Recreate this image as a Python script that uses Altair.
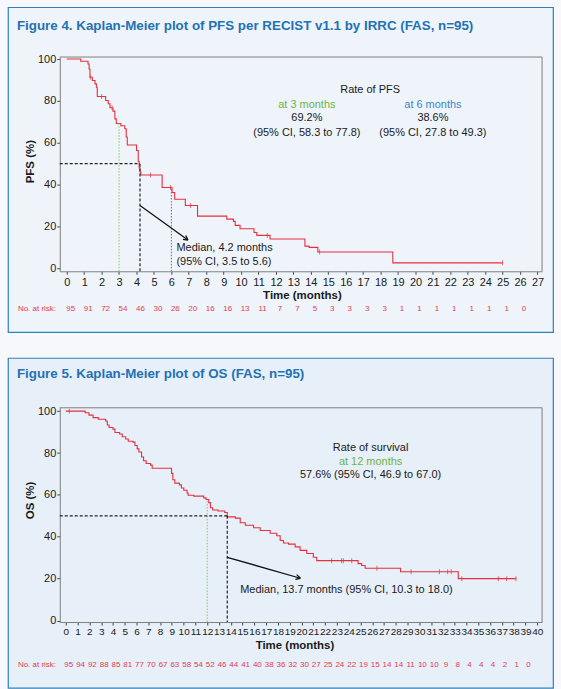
import math
import altair as alt
import pandas as pd

FONT = "Liberation Sans"
RED = "#e3313f"
RISK_RED = "#e23c50"
GREEN_TXT = "#6db446"
GREEN_LINE = "#8ccf4c"
BLUE_TXT = "#3a86cc"
BLUE_LINE = "#3a78d0"
TITLE_BLUE = "#2372b4"
BORDER_BLUE = "#2f80bf"
AXIS_GRAY = "#7f7f7f"
TEXT = "#1a1a1a"

# ---------------- data: PFS (Figure 4) ----------------
PFS_MONTHS = [0, 0.8, 1.22, 1.28, 1.33, 1.47, 1.62, 1.70, 1.75, 2.23, 2.38, 2.48, 2.65,
              2.76, 2.84, 3.1, 3.33, 3.41, 3.47, 4.0, 4.1, 4.15, 4.2, 4.25, 5.47, 6.04,
              6.19, 6.8, 7.5, 9.18, 9.56, 9.66, 9.94, 10.74, 10.9, 11.66, 13.66, 13.9,
              14.4, 18.7, 25.0]
PFS_SURV = [100, 98.9, 97.6, 95.2, 91.3, 89.7, 88.1, 86.5, 82.1, 80.2, 78.6, 76.7, 75.1,
            71.4, 69.2, 68.1, 66.7, 62.7, 58.9, 56.3, 51.0, 48.0, 46.0, 44.6, 38.6, 36.2,
            33.0, 30.0, 24.9, 23.5, 22.4, 20.5, 18.9, 17.1, 15.7, 14.0, 10.6, 10.0,
            7.8, 2.6, 2.6]
PFS_CENSOR_MONTHS = [1.35, 2.0, 2.6, 4.8, 5.95, 7.1, 11.5, 14.5, 25.0]
PFS_CENSOR_SURV = [91.3, 82.1, 76.7, 44.6, 38.6, 30.0, 15.7, 7.8, 2.6]
PFS_AT_RISK = [95, 91, 72, 54, 46, 30, 26, 20, 16, 16, 13, 11, 7, 7, 5, 3, 3, 3, 3,
               1, 1, 1, 1, 1, 1, 1, 0]
PFS_TICKS = list(range(0, 28))
PFS_MEDIAN = 4.2
PFS_RATE_3M = 69.2
PFS_RATE_6M = 38.6

# ---------------- data: OS (Figure 5) ----------------
OS_MONTHS = [0, 1.64, 1.97, 2.31, 2.76, 3.38, 3.52, 3.67, 4.0, 4.17, 4.57, 4.79, 5.08,
             5.30, 5.70, 5.87, 6.06, 6.20, 6.43, 6.60, 6.82, 7.19, 7.33, 8.97, 9.08,
             9.25, 9.64, 9.81, 10.01, 10.29, 10.38, 10.86, 11.7, 11.9, 12.13, 12.27,
             12.46, 12.92, 13.48, 13.7, 14.38, 14.8, 15.23, 15.93, 16.5, 17.34, 17.9,
             18.19, 18.47, 18.9, 19.46, 19.88, 20.45, 21.0, 21.29, 24.8, 25.1, 25.4,
             28.4, 33.3, 38.2]
OS_SURV = [100, 99.2, 98.1, 96.9, 96.1, 95.3, 93.4, 92.2, 91.4, 89.8, 89.1, 87.8, 86.7,
           85.6, 85.2, 83.6, 82.0, 80.5, 78.1, 76.3, 75.0, 74.2, 72.7, 70.3, 67.2,
           65.6, 64.8, 63.3, 62.2, 60.9, 59.8, 59.4, 58.6, 57.8, 56.3, 53.9,
           52.8, 52.3, 51.6, 49.5, 48.9, 46.7, 45.5, 44.3, 43.0, 41.7, 40.5,
           38.2, 37.0, 36.5, 35.2, 33.5, 32.0, 30.2, 28.6, 27.2, 26.3, 25.0,
           23.3, 20.0, 20.0]
OS_CENSOR_MONTHS = [0.3, 22.56, 23.4, 23.55, 24.26, 26.4, 29.3, 31.7, 32.4, 32.7,
                    33.6, 36.7, 37.4, 38.2]
OS_CENSOR_SURV = [100, 28.6, 28.6, 28.6, 28.6, 25.0, 23.3, 23.3, 23.3, 23.3,
                  20.0, 20.0, 20.0, 20.0]
OS_AT_RISK = [95, 94, 92, 88, 85, 81, 77, 70, 67, 63, 58, 54, 52, 46, 44, 41, 40, 38,
              36, 32, 30, 27, 25, 24, 22, 19, 15, 14, 14, 11, 10, 10, 9, 8, 4, 4, 4,
              2, 1, 0]
OS_TICKS = list(range(0, 41))
OS_MEDIAN = 13.7
OS_RATE_12M = 57.6

VIEW_W = 547
X_RANGE = [52, 536]
Y_RANGE = [265, 50]
ARROW_PATH = "M0,0L-0.55,1M0,0L0.55,1"


def build_panel(p):
    xdom, ydom = p["xdom"], p["ydom"]
    xs = alt.Scale(domain=xdom, range=X_RANGE, nice=False, zero=False)
    ys = alt.Scale(domain=ydom, range=Y_RANGE, nice=False, zero=False)

    x_axis = alt.Axis(values=p["xticks"], offset=p["xoff"], domainColor=AXIS_GRAY,
                      tickColor="#444444", tickSize=3, labelFont=FONT,
                      labelFontSize=p["xlabsize"], labelColor=TEXT, labelPadding=2,
                      labelOverlap=False, labelFlush=False, grid=False, title=None)
    y_axis = alt.Axis(values=[0, 20, 40, 60, 80, 100], offset=-52, domainColor=AXIS_GRAY,
                      tickColor="#444444", tickSize=3, labelFont=FONT, labelFontSize=11,
                      labelColor=TEXT, labelPadding=1, labelOverlap=False,
                      labelFlush=False, grid=False, title=None)

    def XX(f="x"):
        return alt.X(f"{f}:Q", scale=xs, axis=x_axis)

    def YY(f="y"):
        return alt.Y(f"{f}:Q", scale=ys, axis=y_axis)

    layers = []
    # KM curve first
    curve = pd.DataFrame({"x": p["T"], "y": p["S"]})
    layers.append(alt.Chart(curve).mark_line(interpolate="step-after", color=RED, strokeWidth=1.1).encode(
        x=XX(), y=YY()))

    # frame top & right
    frame = pd.DataFrame({"x": [xdom[0], xdom[1]], "x2": [xdom[1], xdom[1]],
                          "y": [ydom[1], ydom[0]], "y2": [ydom[1], ydom[1]]})
    layers.append(alt.Chart(frame).mark_rule(color=AXIS_GRAY, strokeWidth=1).encode(
        x=XX(), x2=alt.X2("x2"), y=YY(), y2=alt.Y2("y2")))

    # colored dotted verticals
    for (t, s, col) in p["marks"]:
        d = pd.DataFrame({"x": [t], "y": [ydom[0]], "y2": [s]})
        layers.append(alt.Chart(d).mark_rule(color=col, strokeWidth=1, strokeDash=[1.5, 1.5]).encode(
            x=XX(), y=YY(), y2=alt.Y2("y2")))

    # median dashed lines
    med = p["median"]
    dm = pd.DataFrame({"x": [xdom[0], med], "x2": [med, med], "y": [50, 50], "y2": [50, ydom[0]]})
    layers.append(alt.Chart(dm).mark_rule(color="#222222", strokeWidth=1.2, strokeDash=[3, 2]).encode(
        x=XX(), x2=alt.X2("x2"), y=YY(), y2=alt.Y2("y2")))

    # censor ticks
    cens = pd.DataFrame({"x": p["CT"], "y": p["CS"]})
    layers.append(alt.Chart(cens).mark_tick(orient="vertical", size=5, thickness=1, color=RED).encode(
        x=XX(), y=YY()))

    # arrow
    (xa, ya), (xb, yb) = p["arrow"]
    da = pd.DataFrame({"x": [xa], "y": [ya], "x2": [xb], "y2": [yb]})
    layers.append(alt.Chart(da).mark_rule(color="#111111", strokeWidth=1.3).encode(
        x=XX(), y=YY(), x2=alt.X2("x2"), y2=alt.Y2("y2")))
    sx = (X_RANGE[1] - X_RANGE[0]) / (xdom[1] - xdom[0])
    sy = (Y_RANGE[0] - Y_RANGE[1]) / (ydom[1] - ydom[0])
    ang = math.degrees(math.atan2((xb - xa) * sx, -((ya - yb) * sy))) % 360
    dh = pd.DataFrame({"x": [xb], "y": [yb]})
    layers.append(alt.Chart(dh).mark_point(shape=ARROW_PATH, filled=False, stroke="#111111",
                                           strokeWidth=1.3, size=80, angle=ang, opacity=1).encode(
        x=XX(), y=YY()))

    # annotation texts (data coordinates)
    for align, rows in (("center", p["ctext"]), ("left", p["ltext"])):
        dt = pd.DataFrame(rows, columns=["x", "y", "text", "color"])
        layers.append(alt.Chart(dt).mark_text(align=align, baseline="middle", font=FONT, fontSize=11).encode(
            x=XX(), y=YY(), text="text:N", color=alt.Color("color:N", scale=None)))

    # number at risk
    dr = pd.DataFrame({"x": list(range(len(p["risk"]))), "n": [str(v) for v in p["risk"]]})
    layers.append(alt.Chart(dr).mark_text(align="center", baseline="middle", font=FONT, fontSize=8,
                                          color=RISK_RED, dx=p["riskdx"]).encode(
        x=XX(), y=alt.value(p["risky"]), text="n:N"))
    one = pd.DataFrame({"t": ["No. at risk:"]})
    layers.append(alt.Chart(one).mark_text(align="left", baseline="middle", font=FONT, fontSize=8,
                                           color=RISK_RED).encode(
        x=alt.value(10), y=alt.value(p["risky"]), text="t:N"))

    # panel title
    tt = pd.DataFrame({"t": [p["title"]]})
    layers.append(alt.Chart(tt).mark_text(align="left", baseline="middle", font=FONT, fontSize=13.4,
                                          fontWeight="bold", color=TITLE_BLUE).encode(
        x=alt.value(9), y=alt.value(p["titley"]), text="t:N"))
    # axis titles
    xt = pd.DataFrame({"t": ["Time (months)"]})
    layers.append(alt.Chart(xt).mark_text(align="center", baseline="middle", font=FONT, fontSize=11.5,
                                          fontWeight="bold", color=TEXT).encode(
        x=alt.value(p["xtitle"][0]), y=alt.value(p["xtitle"][1]), text="t:N"))
    yt = pd.DataFrame({"t": [p["ylabel"]]})
    layers.append(alt.Chart(yt).mark_text(align="center", baseline="middle", font=FONT, fontSize=11.5,
                                          fontWeight="bold", color=TEXT, angle=270).encode(
        x=alt.value(23), y=alt.value(p["ylabely"]), text="t:N"))

    return alt.layer(*layers).properties(
        width=VIEW_W, height=p["height"],
        view=alt.ViewBackground(fill=p["fill"], stroke=BORDER_BLUE, strokeWidth=1.2))


pfs = dict(
    xdom=[-0.4, 27.26], ydom=[-1.43, 100.95], xticks=PFS_TICKS, xoff=-61, xlabsize=11,
    T=PFS_MONTHS, S=PFS_SURV, CT=PFS_CENSOR_MONTHS, CS=PFS_CENSOR_SURV,
    marks=[(3, PFS_RATE_3M, GREEN_LINE), (6, PFS_RATE_6M, BLUE_LINE)],
    median=PFS_MEDIAN, arrow=((4.2, 30.0), (6.95, 13.5)),
    ctext=[(17.4, 85.4, "Rate of PFS", TEXT),
           (13.77, 78.1, "at 3 months", GREEN_TXT),
           (13.77, 71.6, "69.2%", TEXT),
           (13.77, 64.8, "(95% CI, 58.3 to 77.8)", TEXT),
           (21.0, 78.1, "at 6 months", BLUE_TXT),
           (21.0, 71.6, "38.6%", TEXT),
           (21.0, 64.8, "(95% CI, 27.8 to 49.3)", TEXT)],
    ltext=[(6.29, 9.7, "Median, 4.2 months", TEXT),
           (6.29, 2.9, "(95% CI, 3.5 to 5.6)", TEXT)],
    risk=PFS_AT_RISK, riskdx=4, risky=302.5,
    title="Figure 4. Kaplan-Meier plot of PFS per RECIST v1.1 by IRRC (FAS, n=95)", titley=19,
    xtitle=(295.5, 290), ylabel="PFS (%)", ylabely=155, height=326, fill="#eef4fa")

os_ = dict(
    xdom=[-0.51, 40.41], ydom=[-0.7, 101.6], xticks=OS_TICKS, xoff=-66, xlabsize=10,
    T=OS_MONTHS, S=OS_SURV, CT=OS_CENSOR_MONTHS, CS=OS_CENSOR_SURV,
    marks=[(12, OS_RATE_12M, GREEN_LINE)],
    median=OS_MEDIAN, arrow=((13.7, 30.2), (19.9, 20.2)),
    ctext=[(25.86, 82.5, "Rate of survival", TEXT),
           (25.86, 75.7, "at 12 months", GREEN_TXT),
           (25.86, 69.4, "57.6% (95% CI, 46.9 to 67.0)", TEXT)],
    ltext=[(14.8, 14.8, "Median, 13.7 months (95% CI, 10.3 to 18.0)", TEXT)],
    risk=OS_AT_RISK, riskdx=3, risky=308,
    title="Figure 5. Kaplan-Meier plot of OS (FAS, n=95)", titley=16,
    xtitle=(288, 289), ylabel="OS (%)", ylabely=143, height=331, fill="#e7eff8")

chart = alt.vconcat(build_panel(pfs), build_panel(os_), spacing=24).configure(
    background="#f6f8fb",
    padding={"left": 7, "top": 5, "right": 7, "bottom": 3},
)

chart.save("out.html", embed_options={"renderer": "svg", "actions": False})
